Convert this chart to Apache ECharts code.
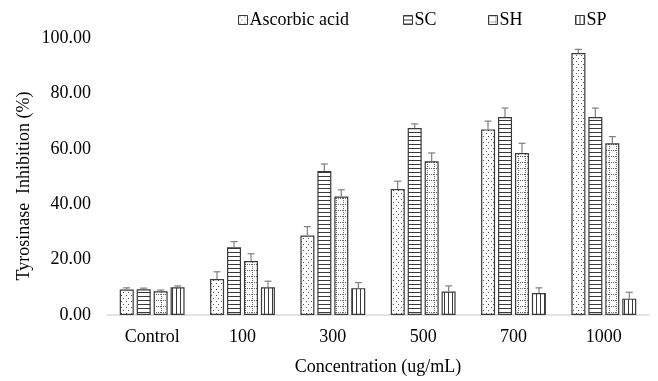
<!DOCTYPE html>
<html>
<head>
<meta charset="utf-8">
<script src="https://cdn.jsdelivr.net/npm/echarts@6/dist/echarts.min.js"></script>
<style>
  html, body { margin: 0; padding: 0; background: #fff; }
  #chart { width: 658px; height: 381px; }
</style>
</head>
<body>
<div id="chart"></div>
<script>
const categories = ['Control', '100', '300', '500', '700', '1000'];
const seriesNames = ['Ascorbic acid', 'SC', 'SH', 'SP'];

const ascorbic = [9.2, 13.0, 28.7, 45.5, 67.0, 94.6];
const sc = [9.3, 24.5, 52.0, 67.5, 71.5, 71.5];
const sh = [8.6, 19.5, 42.8, 55.5, 58.5, 62.0];
const sp = [10.0, 10.0, 9.7, 8.5, 7.9, 5.9];

const ascorbicErr = [0.6, 2.6, 3.2, 2.8, 3.0, 1.3];
const scErr = [0.4, 2.0, 2.5, 1.5, 3.2, 3.2];
const shErr = [0.4, 2.6, 2.4, 3.0, 3.5, 2.4];
const spErr = [0.5, 2.2, 2.0, 2.0, 1.9, 2.3];

const yTicks = [0, 20, 40, 60, 80, 100];

const values = [ascorbic, sc, sh, sp];
const errors = [ascorbicErr, scErr, shErr, spErr];

const lineCol = '#3a3a3a';
const font = 'Liberation Serif';

function makePattern(kind) {
  const c = document.createElement('canvas');
  const ctx = c.getContext('2d');
  if (kind === 'dots') {
    c.width = 5; c.height = 6;
    ctx.fillStyle = '#fff'; ctx.fillRect(0, 0, 5, 6);
    ctx.fillStyle = '#555';
    ctx.fillRect(1, 1, 1, 1);
    ctx.fillRect(3, 4, 1, 1);
  } else if (kind === 'hlines') {
    c.width = 4; c.height = 4;
    ctx.fillStyle = '#fff'; ctx.fillRect(0, 0, 4, 4);
    ctx.fillStyle = lineCol;
    ctx.fillRect(0, 0, 4, 1);
  } else if (kind === 'grid') {
    c.width = 7; c.height = 6;
    ctx.fillStyle = '#fff'; ctx.fillRect(0, 0, 7, 6);
    ctx.fillStyle = '#666';
    for (let x = 0; x < 7; x += 2) ctx.fillRect(x, 0, 1, 1);
    for (let y = 0; y < 6; y += 2) ctx.fillRect(0, y, 1, 1);
  } else {
    c.width = 4; c.height = 4;
    ctx.fillStyle = '#fff'; ctx.fillRect(0, 0, 4, 4);
    ctx.fillStyle = lineCol;
    ctx.fillRect(0, 0, 1, 4);
  }
  return { image: c, repeat: 'repeat' };
}

const patterns = [makePattern('dots'), makePattern('hlines'), makePattern('grid'), makePattern('vlines')];

const barWidth = 14;
const barStep = 17;

const chart = echarts.init(document.getElementById('chart'));

const barSeries = seriesNames.map((name, i) => ({
  name,
  type: 'bar',
  data: values[i],
  barWidth,
  barGap: '21%',
  itemStyle: { color: patterns[i], borderColor: lineCol, borderWidth: 1.2 },
  z: 2
}));

const errData = [];
values.forEach((arr, s) => {
  arr.forEach((v, c) => errData.push([c, v, errors[s][c], s]));
});

// upper error bars, shifted onto each bar of the group
const errSeries = {
  type: 'custom',
  name: 'err',
  data: errData,
  z: 3,
  renderItem(params, api) {
    const c = api.value(0);
    const s = api.value(3);
    const base = api.coord([c, api.value(1)]);
    const top = api.coord([c, api.value(1) + api.value(2)]);
    const x = base[0] + (s - 1.5) * barStep;
    const style = { stroke: '#7f7f7f', lineWidth: 1.2 };
    return {
      type: 'group',
      children: [
        { type: 'line', shape: { x1: x, y1: base[1], x2: x, y2: top[1] }, style },
        { type: 'line', shape: { x1: x - 3.5, y1: top[1], x2: x + 3.5, y2: top[1] }, style }
      ]
    };
  }
};

const legendLefts = [238, 403, 488, 575];
const legends = seriesNames.map((name, i) => ({
  data: [name],
  left: legendLefts[i],
  top: 11,
  padding: 0,
  itemWidth: 9,
  itemHeight: 9,
  itemGap: 4,
  icon: 'rect',
  itemStyle: { borderColor: lineCol, borderWidth: 1 },
  textStyle: { fontFamily: font, fontSize: 18, color: '#000', padding: [0, 0, 0, -3] },
  selectedMode: false
}));

chart.setOption({
  animation: false,
  textStyle: { fontFamily: font },
  legend: legends,
  grid: { left: 107, right: 9, top: 38, bottom: 62 },
  xAxis: {
    type: 'category',
    data: categories,
    axisLine: { lineStyle: { color: '#d9d9d9', width: 1.5 } },
    axisTick: { show: false },
    axisLabel: { fontFamily: font, fontSize: 18, color: '#000', margin: 13 },
    name: 'Concentration (ug/mL)',
    nameLocation: 'middle',
    nameGap: 43,
    nameTextStyle: { fontFamily: font, fontSize: 18, color: '#000' }
  },
  yAxis: {
    type: 'value',
    min: yTicks[0],
    max: yTicks[yTicks.length - 1],
    interval: 20,
    axisLine: { show: false },
    axisTick: { show: false },
    splitLine: { show: false },
    axisLabel: {
      fontFamily: font, fontSize: 18, color: '#000', margin: 16,
      formatter: v => v.toFixed(2)
    }
  },
  graphic: [{
    type: 'text',
    x: 24,
    y: 186,
    rotation: Math.PI / 2,
    style: {
      text: 'Tyrosinase  Inhibition (%)',
      font: '18px "Liberation Serif"',
      fill: '#000',
      textAlign: 'center',
      textVerticalAlign: 'middle'
    }
  }],
  series: [...barSeries, errSeries]
});
</script>
</body>
</html>
